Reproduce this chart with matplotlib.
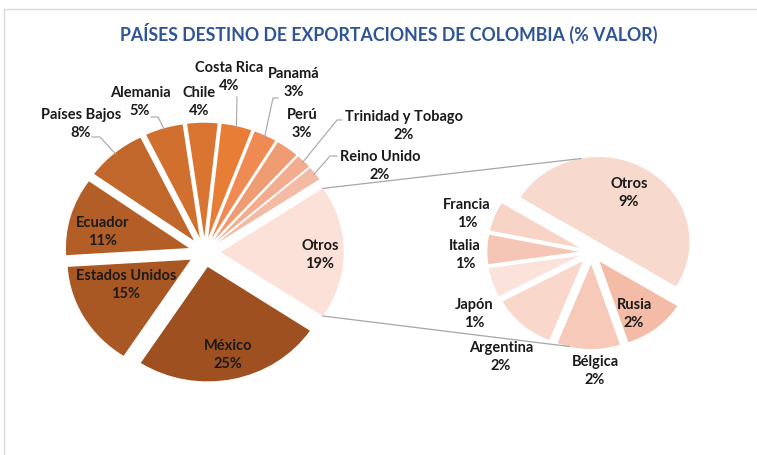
import matplotlib
matplotlib.use("Agg")
import matplotlib.pyplot as plt  # noqa: E402
import numpy as np  # noqa: E402

W, H = 757, 455
K = 1.075  # the source picture is a little wider than tall

main_labels = ["México", "Estados Unidos", "Ecuador", "Países Bajos", "Alemania", "Chile",
               "Costa Rica", "Panamá", "Perú", "Trinidad y Tobago", "Reino Unido", "Otros"]
main_values = [25, 15, 11, 8, 5, 4, 4, 3, 3, 2, 2, 19]
main_colors = ["#9E5020", "#AA5823", "#B45E27", "#C2672B", "#D06F2E", "#DA7531",
               "#E87E36", "#EF8B52", "#F09C72", "#F3AC8D", "#F4BBA4", "#FBE1D8"]

sub_labels = ["Otros", "Rusia", "Bélgica", "Argentina", "Japón", "Italia", "Francia"]
sub_values = [9, 2, 2, 2, 1, 1, 1]
sub_colors = ["#F8D9CD", "#F4BCA7", "#F6C9B9", "#F9D7CB", "#FBE2DA", "#F5C6B5", "#F8D4C7"]

# label anchors, in pixels of the picture
main_pos = {
    "México": (228, 355), "Estados Unidos": (126, 285), "Ecuador": (103, 232),
    "Otros": (320, 255), "Países Bajos": (81, 124), "Alemania": (140, 102),
    "Chile": (199, 102), "Costa Rica": (229, 77), "Panamá": (294, 83),
    "Perú": (302, 124), "Trinidad y Tobago": (404, 126), "Reino Unido": (380, 166),
}
sub_pos = {
    "Otros": (629, 193), "Francia": (467, 214), "Italia": (465, 255),
    "Japón": (474, 314), "Argentina": (501, 357), "Bélgica": (595, 371),
    "Rusia": (634, 314),
}
# leader line start points (pixels) for the outside labels
leaders = {
    "Países Bajos": [(92, 137), (100, 137)],
    "Alemania": [(151, 117), (158, 117)],
    "Costa Rica": [(237, 97)],
    "Panamá": [(278, 98), (273, 98)],
    "Trinidad y Tobago": [(342, 120), (337, 120)],
    "Reino Unido": [(337, 156), (330, 156)],
}

FONT = ["Lato", "DejaVu Sans"]
TXT = "#1A1A1A"
GRAY = "#A6A6A6"


def px(x, y):
    return x / K, H - y


def edge(w, ang=None, f=1.0):
    a = np.radians((w.theta1 + w.theta2) / 2 if ang is None else ang)
    return w.center[0] + f * w.r * np.cos(a), w.center[1] + f * w.r * np.sin(a)


def label(ax, pos, name, v):
    x, y = pos
    for dy, s in [(-9.2, name), (9.2, f"{v}%")]:
        ax.text(*px(x, y + dy), s, ha="center", va="center", fontsize=10.5,
                fontweight="bold", family=FONT, color=TXT)


fig = plt.figure(figsize=(W / 100, H / 100), dpi=100)
ax = fig.add_axes([0, 0, 1, 1])

# pie explode is in data units here (radius is not 1)
r1 = 114.5
start1 = -180 * main_values[-1] / sum(main_values)
w1, _ = ax.pie(main_values, colors=main_colors, radius=r1, center=px(204.5, 252.2),
               startangle=start1, counterclock=False,
               explode=[15] * len(main_values), wedgeprops=dict(linewidth=0))

r2 = 84.9
w2, _ = ax.pie(sub_values, colors=sub_colors, radius=r2, center=px(591.5, 252.1),
               startangle=148.4, counterclock=False,
               explode=[12] * len(sub_values), wedgeprops=dict(linewidth=0))

ax.set_aspect("auto")
ax.set_xlim(0, W / K)
ax.set_ylim(0, H)
ax.axis("off")

# connector lines between the two pies
ot = w1[-1]
for a_main, w_sub, a_sub in [(ot.theta2, w2[0], 101), (ot.theta1, w2[2], -104)]:
    p0 = edge(ot, a_main)
    p1 = edge(w_sub, a_sub)
    ax.plot([p0[0], p1[0]], [p0[1], p1[1]], color=GRAY, lw=0.9)

for name, pts in leaders.items():
    w = w1[main_labels.index(name)]
    xs = [px(*p)[0] for p in pts]
    ys = [px(*p)[1] for p in pts]
    e = edge(w, f=0.99)
    ax.plot(xs + [e[0]], ys + [e[1]], color=GRAY, lw=0.8)

for name, v in zip(main_labels, main_values):
    label(ax, main_pos[name], name, v)

for name, v in zip(sub_labels, sub_values):
    label(ax, sub_pos[name], name, v)

fig.text(389 / W, 1 - 33 / H, "PAÍSES DESTINO DE EXPORTACIONES DE COLOMBIA (% VALOR)",
         ha="center", va="center", fontsize=12.8, fontweight="bold", family=FONT,
         color="#2F5597")

# chart frame (only top and left edges are visible)
ax.plot([px(757, 9)[0], px(4, 9)[0], px(4, 455)[0]], [px(757, 9)[1], px(4, 9)[1], px(4, 455)[1]],
        color="#D9D9D9", lw=1.0, clip_on=False)

fig.savefig("out.png", dpi=100)
